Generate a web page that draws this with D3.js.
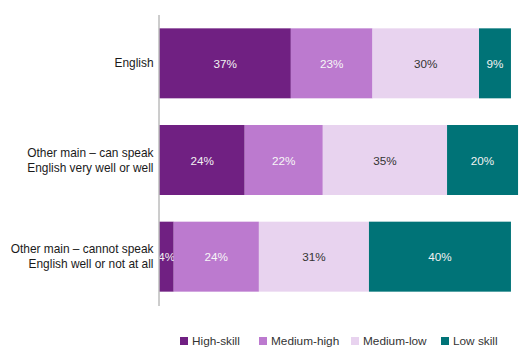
<!DOCTYPE html>
<html>
<head>
<meta charset="utf-8">
<script src="https://cdn.jsdelivr.net/npm/d3@7"></script>
<style>
  html, body { margin: 0; padding: 0; background: #fff; }
  svg { display: block; font-family: "Liberation Sans", Arial, sans-serif; }
</style>
</head>
<body>
<svg id="chart" width="532" height="357"></svg>
<script>
// ---- data ----
const categories = [
  ["English"],
  ["Other main \u2013 can speak", "English very well or well"],
  ["Other main \u2013 cannot speak", "English well or not at all"]
];
const seriesNames = ["High-skill", "Medium-high", "Medium-low", "Low skill"];
const highSkill  = [37, 24, 4];
const mediumHigh = [23, 22, 24];
const mediumLow  = [30, 35, 31];
const lowSkill   = [9, 20, 40];
const seriesColors = ["#702082", "#bc7acf", "#e8d3ef", "#007377"];
const labelColors  = ["#f2f2f2", "#f7f7f7", "#333333", "#f2f2f2"];

// ---- build ----
const seriesValues = [highSkill, mediumHigh, mediumLow, lowSkill];
const rows = categories.map((c, i) => {
  const r = { key: i };
  seriesNames.forEach((s, j) => r[s] = seriesValues[j][i]);
  return r;
});
const stacked = d3.stack().keys(seriesNames)(rows);

const svg = d3.select("#chart");
const x = d3.scaleLinear().domain([0, 100]).range([159.5, 514.5]);
const y = d3.scaleBand().domain(d3.range(categories.length))
  .range([15, 305]).paddingInner(0.276).paddingOuter(0.138);
const color = d3.scaleOrdinal().domain(seriesNames).range(seriesColors);
const lcolor = d3.scaleOrdinal().domain(seriesNames).range(labelColors);

const layers = svg.append("g").selectAll("g").data(stacked).join("g")
  .attr("fill", d => color(d.key));

layers.selectAll("rect").data(d => d.map(p => Object.assign(p, { series: d.key })))
  .join("rect")
  .attr("x", d => x(d[0]))
  .attr("y", d => y(d.data.key))
  .attr("width", d => x(d[1]) - x(d[0]))
  .attr("height", y.bandwidth());

layers.selectAll("text").data(d => d).join("text")
  .attr("x", d => (x(d[0]) + x(d[1])) / 2)
  .attr("y", d => y(d.data.key) + y.bandwidth() / 2)
  .attr("text-anchor", "middle")
  .attr("dominant-baseline", "central")
  .attr("font-size", "11.7px")
  .attr("fill", d => lcolor(d.series))
  .text(d => (d[1] - d[0]) + "%");

// axis line
svg.append("line")
  .attr("x1", x(0) - 0.5).attr("x2", x(0) - 0.5)
  .attr("y1", y.range()[0]).attr("y2", y.range()[1] + 1)
  .attr("stroke", "#9a9a9a").attr("stroke-width", 1);

// category labels
const lineH = 15;
const catG = svg.append("g").selectAll("text").data(categories).join("text")
  .attr("text-anchor", "end")
  .attr("font-size", "11.9px")
  .attr("fill", "#1a1a1a");
catG.each(function(lines, i) {
  const cy = y(i) + y.bandwidth() / 2;
  const t = d3.select(this);
  lines.forEach((ln, k) => {
    t.append("tspan")
      .attr("x", x(0) - 6)
      .attr("y", cy + (k - (lines.length - 1) / 2) * lineH)
      .attr("dominant-baseline", "central")
      .text(ln);
  });
});

// legend
const legendX = [180, 259, 351, 441];
const lg = svg.append("g").selectAll("g").data(seriesNames).join("g")
  .attr("transform", (d, i) => `translate(${legendX[i]},337)`);
lg.append("rect").attr("width", 8).attr("height", 8).attr("fill", d => color(d));
lg.append("text").attr("x", 12).attr("y", 4)
  .attr("dominant-baseline", "central")
  .attr("font-size", "11.8px").attr("fill", "#333")
  .text(d => d);
</script>
</body>
</html>
